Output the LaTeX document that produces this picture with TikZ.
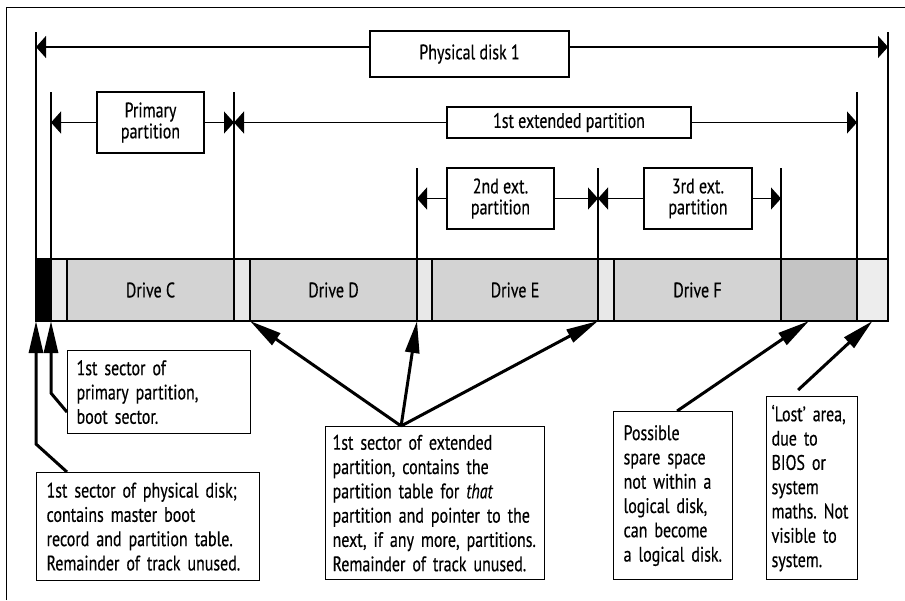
\documentclass[tikz,border=0pt]{standalone}
\usepackage{fontspec}
\setmainfont{PT Sans}[FakeStretch=0.76,FakeBold=0.4]
\usetikzlibrary{positioning,arrows.meta}
\frenchspacing

\definecolor{drivegray}{RGB}{211,211,211}
\definecolor{gaplight}{RGB}{232,232,232}
\definecolor{sparegray}{RGB}{196,196,196}
\definecolor{lostgray}{RGB}{237,237,237}

\begin{document}
\begin{tikzpicture}[x=1pt,y=-1pt,>={Triangle[length=10pt,width=22pt]},
  font=\fontsize{21}{21}\selectfont,
  dimline/.style={line width=1.1pt},
  lbl/.style={draw,line width=1.2pt,fill=white,align=center,inner sep=0pt,outer sep=0pt,anchor=north west},
  seg/.style={draw,line width=1.2pt,inner sep=0pt,outer sep=0pt,minimum height=62pt,anchor=north west},
  note/.style={draw,line width=1.2pt,fill=white,align=left,anchor=north west,inner ysep=4pt,font=\fontsize{21}{24.3}\selectfont},
  ptr/.style={line width=3pt,-{Triangle[length=32pt,width=14pt]}}]
\useasboundingbox (0,0) rectangle (905,600);
\draw[line width=1pt] (6,600) -- (6,7) -- (905,7);

% the disk as a bar of segments
\node[seg,fill=black,minimum width=15pt] (mbr) at (36,259) {};
\node[seg,fill=gaplight,minimum width=16pt] (gapC) at (51,259) {};
\node[seg,fill=drivegray,minimum width=167pt] (drvC) at (67,259) {Drive C};
\node[seg,fill=gaplight,minimum width=16pt] (gapD) at (234,259) {};
\node[seg,fill=drivegray,minimum width=167pt] (drvD) at (250,259) {Drive D};
\node[seg,fill=gaplight,minimum width=15pt] (gapE) at (417,259) {};
\node[seg,fill=drivegray,minimum width=166pt] (drvE) at (432,259) {Drive E};
\node[seg,fill=gaplight,minimum width=16pt] (gapF) at (598,259) {};
\node[seg,fill=drivegray,minimum width=167pt] (drvF) at (614,259) {Drive F};
\node[seg,fill=sparegray,minimum width=76pt] (spare) at (781,259) {};
\node[seg,fill=lostgray,minimum width=31pt] (lost) at (857,259) {};

% extent ticks
\draw[dimline] (mbr.north west) -- ++(0,-227);
\draw[dimline] (lost.north east) -- ++(0,-227);
\draw[dimline] (mbr.north east) -- ++(0,-167);
\draw[dimline] (gapD.north west) -- ++(0,-167);
\draw[dimline] (lost.north west) -- ++(0,-167);
\draw[dimline] (gapE.north west) -- ++(0,-91);
\draw[dimline] (gapF.north west) -- ++(0,-91);
\draw[dimline] (spare.north west) -- ++(0,-91);

% extent labels
\node[lbl,minimum width=199pt,minimum height=46pt] (pd) at (370,31) {Physical disk 1};
\draw[dimline,->] (pd.west |- 0,47) -- (mbr.north west |- 0,47);
\draw[dimline,->] (pd.east |- 0,47) -- (lost.north east |- 0,47);

\node[lbl,minimum width=107pt,minimum height=61pt] (pp) at (97,92) {Primary\\partition};
\draw[dimline,->] (pp.west) -- (mbr.north east |- pp.west);
\draw[dimline,->] (pp.east) -- (gapD.north west |- pp.east);

\node[lbl,minimum width=244pt,minimum height=31pt] (ep1) at (447,107) {1st extended partition};
\draw[dimline,->] (ep1.west) -- (gapD.north west |- ep1.west);
\draw[dimline,->] (ep1.east) -- (lost.north west |- ep1.east);

\node[lbl,minimum width=107pt,minimum height=61pt] (ep2) at (447,168) {2nd ext.\\partition};
\draw[dimline,->] (ep2.west) -- (gapE.north west |- ep2.west);
\draw[dimline,->] (ep2.east) -- (gapF.north west |- ep2.east);

\node[lbl,minimum width=108pt,minimum height=61pt] (ep3) at (644,168) {3rd ext.\\partition};
\draw[dimline,->] (ep3.west) -- (gapF.north west |- ep3.west);
\draw[dimline,->] (ep3.east) -- (spare.north west |- ep3.east);

% notes below the bar
\node[note,text width=203pt,inner xsep=10pt,minimum height=108pt] (mbrnote) at (36,472)
  {1st sector of physical disk;\\contains master boot\\record and partition table.\\Remainder of track unused.};
\node[note,text width=165pt,inner xsep=9pt,minimum height=83pt] (bootnote) at (67,350)
  {1st sector of\\primary partition,\\boot sector.};
\node[note,text width=205pt,inner xsep=7pt,minimum height=153pt] (extnote) at (325,426)
  {1st sector of extended\\partition, contains the\\partition table for \textit{that}\\partition and pointer to the\\next, if any more, partitions.\\Remainder of track unused.};
\node[note,text width=99pt,inner xsep=10pt,minimum height=168pt] (sparenote) at (613,411)
  {Possible\\spare space\\not within a\\logical disk,\\can become\\a logical disk.};
\node[note,text width=81pt,inner xsep=5pt,minimum height=183pt] (lostnote) at (766,396)
  {‘Lost’ area,\\due to\\BIOS or\\system\\maths. Not\\visible to\\system.};

% pointers
\draw[ptr] ([xshift=31pt]mbrnote.north west) -- ++(-31,-28) -- (mbr.south west);
\draw[ptr] ([yshift=-20pt]bootnote.west) -- ++(-16,-19) -- (mbr.south east);
\draw[ptr] ([xshift=-34pt]extnote.north) -- (drvD.south west);
\draw[ptr] ([xshift=-34pt]extnote.north) -- (gapE.south west);
\draw[ptr] ([xshift=-34pt]extnote.north) -- (drvE.south east);
\draw[ptr] ([xshift=4pt]sparenote.north) -- ([xshift=-10pt]spare.south);
\draw[ptr] ([shift={(-14pt,6pt)}]lostnote.north) -- (lost.south);
\end{tikzpicture}
\end{document}
